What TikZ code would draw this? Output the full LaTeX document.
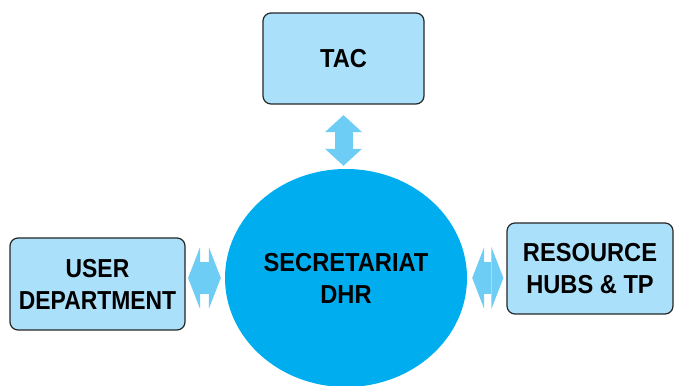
\documentclass[tikz,border=0pt]{standalone}
\usepackage{fontspec}
\newfontfamily\boxfont{Liberation Sans}[FakeStretch=0.91]
\newfontfamily\tightfont{Liberation Sans}[FakeStretch=0.88]
\usetikzlibrary{shapes.geometric, arrows.meta}
\definecolor{boxblue}{RGB}{170,224,250}
\definecolor{hubblue}{RGB}{0,174,239}
\definecolor{linkblue}{RGB}{110,205,245}
\tikzset{x=1pt, y=1pt,
every node/.style={ % Sets the text of every node
font=\boxfont\bfseries\fontsize{26}{32}\selectfont,
align=center, inner sep=0pt},
unit/.style={ % Sets the properties for each outer box
draw=black!85, line width=1.2pt, fill=boxblue,
rounded corners=8pt},
hub/.style={ % The centre ellipse
ellipse, fill=hubblue,
minimum width=242pt, minimum height=218pt},
vlink/.style={ % Vertical two-way link
draw=linkblue, line width=18pt,
{Triangle[length=17pt,width=37pt,line width=0pt]}-{Triangle[length=17pt,width=37pt,line width=0pt]}},
hlink/.style={ % Horizontal two-way link
draw=linkblue, line width=32pt,
{Triangle[length=12pt,width=62pt,line width=0pt]}-{Triangle[length=12pt,width=62pt,line width=0pt]}}}
\begin{document}
\begin{tikzpicture}

    \useasboundingbox (0,0) rectangle (676,385);
    \clip (0,0) rectangle (676,385);

    \node[hub] (sec) at (346,107) {SECRETARIAT\\DHR};
    \node[unit, minimum width=161pt, minimum height=91pt] (tac) at (343.5,326.5) {TAC};
    \node[unit, minimum width=175pt, minimum height=92pt, font=\tightfont\bfseries\fontsize{26}{32}\selectfont] (user) at (97.5,101) {USER\\DEPARTMENT};
    \node[unit, minimum width=166pt, minimum height=91pt] (res) at (590,116.5) {RESOURCE\\HUBS \& TP};

    \draw[vlink, shorten <=10.5pt, shorten >=3pt] (tac.south) -- (tac.south |- sec.north);
    \draw[hlink, shorten <=2.5pt, shorten >=4pt] (user.east |- sec.west) -- (sec.west);
    \draw[hlink, shorten <=5pt, shorten >=3pt] (sec.east) -- (res.west |- sec.east);

\end{tikzpicture}
\end{document}
